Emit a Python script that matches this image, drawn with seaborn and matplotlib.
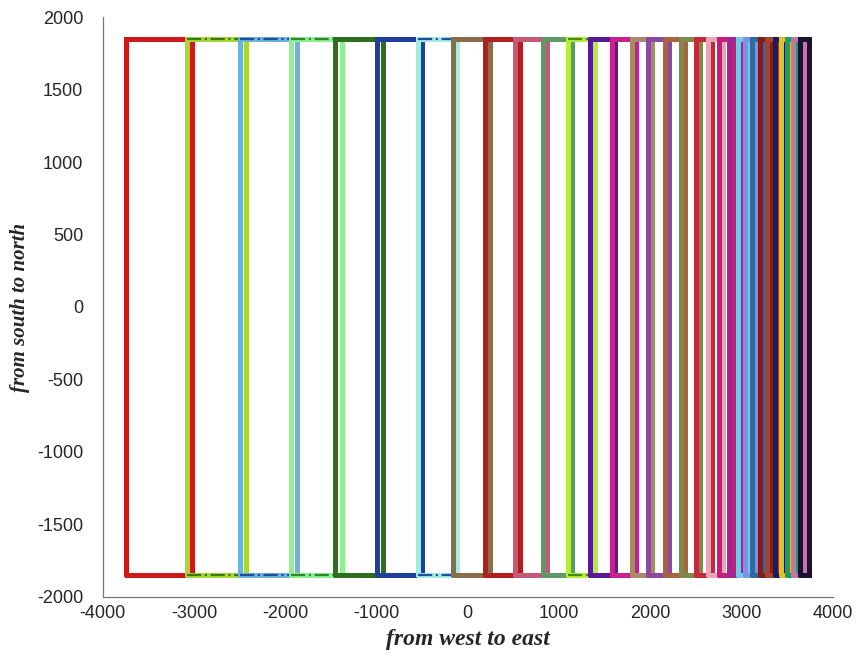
import numpy as np
import pandas as pd
import seaborn as sns
import matplotlib.pyplot as plt

# strip edges (west -> east)
left_edges = [-3740, -3080, -2500, -1940, -1450, -990, -550, -165, 185, 515,
              820, 1095, 1335, 1575, 1795, 1970, 2160, 2335, 2500, 2630,
              2750, 2860, 2960, 3035, 3110, 3200, 3275, 3365, 3430, 3495,
              3560, 3640]
right_edges = [-3025, -2435, -1875, -1380, -930, -505, -120, 240, 570, 865,
               1140, 1390, 1610, 1840, 2015, 2205, 2380, 2540, 2675, 2795,
               2905, 3005, 3080, 3155, 3245, 3320, 3410, 3475, 3540, 3605,
               3680, 3735]
y_south = -1850
y_north = 1850
colors = ['#cc1a1a', '#a8d832', '#6ab4d8', '#8ef08e', '#2f6e1e', '#1f3f9f',
          '#a6ece0', '#8a6c4a', '#b01e1e', '#c45a78', '#5e9a68', '#b4f03a',
          '#5a1a96', '#c8208e', '#a88a68', '#8c4a9e', '#a8643a', '#7c8a4a',
          '#c42a3a', '#eaa4b8', '#c41e7c', '#a42496', '#76c8e4', '#7a90e6',
          '#2e6aa4', '#7e1e1e', '#a8402e', '#14205e', '#e0c41e', '#1e9a6e',
          '#c474a8', '#1e1030']
# strips whose north/south edges carry a dash-dot overlay
dashed = [1, 2, 3, 6, 11]
dash_colors = {1: '#3a7a1a', 2: '#1f4fa0', 3: '#2e8a2e', 6: '#1f4fa0', 11: '#4a8a1a'}

sns.set_style("white")
plt.rcParams['font.family'] = ['Liberation Sans', 'DejaVu Sans']
plt.rcParams['axes.unicode_minus'] = False

fig = plt.figure(figsize=(8.56, 6.58), dpi=100)
ax = fig.add_axes([0.120, 0.093, 0.853, 0.881])

for i, (x0, x1) in enumerate(zip(left_edges, right_edges)):
    rect = pd.DataFrame({'x': [x0, x1, x1, x0, x0],
                         'y': [y_south, y_south, y_north, y_north, y_south]})
    sns.lineplot(data=rect, x='x', y='y', sort=False, estimator=None,
                 color=colors[i], lw=3.6, ax=ax, solid_joinstyle='miter')
    if i in dashed:
        for yy in (y_south, y_north):
            edge = pd.DataFrame({'x': [x0, x1], 'y': [yy, yy]})
            sns.lineplot(data=edge, x='x', y='y', sort=False, estimator=None,
                         color=dash_colors[i], lw=1.6, ls='-.', ax=ax)

ax.set_xlim(-4000, 4000)
ax.set_ylim(-2000, 2000)
ax.set_xticks(np.arange(-4000, 4001, 1000))
ax.set_yticks(np.arange(-2000, 2001, 500))
ax.tick_params(direction='in', length=6, width=0.8, color='#555555',
               labelsize=13, labelcolor='#262626')
ax.tick_params(axis='x', pad=6)
ax.tick_params(axis='y', pad=14)
for s in ['top', 'right']:
    ax.spines[s].set_visible(False)
for s in ['left', 'bottom']:
    ax.spines[s].set_color('#777777')
    ax.spines[s].set_linewidth(0.9)

ax.set_xlabel('from west to east', family=['Liberation Serif'], style='italic',
              weight='bold', fontsize=17, labelpad=5)
ax.set_ylabel('from south to north', family=['Liberation Serif'], style='italic',
              weight='bold', fontsize=15)
ax.yaxis.set_label_coords(-0.099, 0.5)

fig.savefig('out.png', dpi=100)
